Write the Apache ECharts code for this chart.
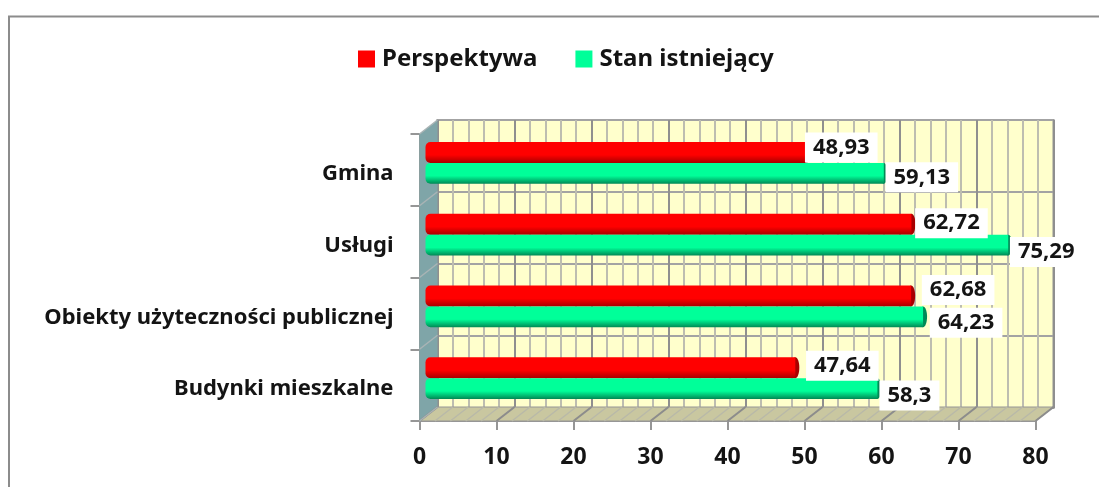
<!DOCTYPE html>
<html>
<head>
<meta charset="utf-8">
<script src="https://cdn.jsdelivr.net/npm/echarts@6/dist/echarts.min.js"></script>
<style>
  html, body { margin: 0; background: #fff; }
  #main { width: 1099px; height: 487px; }
</style>
</head>
<body>
<div id="main"></div>
<script>
const categories = ["Gmina", "Usługi", "Obiekty użyteczności publicznej", "Budynki mieszkalne"];
const perspektywa = [48.93, 62.72, 62.68, 47.64];
const stanIstniejacy = [59.13, 75.29, 64.23, 58.3];
const valueTicks = [0, 80, 10];

// hand placement of the data labels relative to the bar end (dx, dy)
const redNudge = [[36, -5], [40, -1], [47, -6], [47, -2]];
const greenNudge = [[38, 4], [38, 7], [43, 6], [32, 7]];

const fontName = '"Noto Sans", "Open Sans", sans-serif';
const frontLeft = 419.5, frontTop = 134, plotW = 616, plotH = 287;
const depthX = 18, depthY = 14;
const edge = "#969696";

function cylinder(main, dark, nudges, labels, side) {
  return function (params, api) {
    const i = api.value(2);
    const start = api.coord([0, i]);
    const end = api.coord([api.value(0), i]);
    const h = api.size([0, 1])[1] * 0.29;
    const cy = start[1] + side * h / 2;
    const top = cy - h / 2;
    const shade = new echarts.graphic.LinearGradient(0, 0, 0, 1, [
      { offset: 0, color: main },
      { offset: 0.62, color: main },
      { offset: 1, color: dark }
    ]);
    const nudge = nudges[i];
    return {
      type: "group",
      children: [
        { type: "ellipse", shape: { cx: end[0], cy: cy, rx: 4, ry: h / 2 }, style: { fill: dark } },
        { type: "rect", shape: { x: start[0] - 3, y: top, width: end[0] - start[0] + 3, height: h, r: [5, 0, 0, 5] }, style: { fill: shade } },
        {
          type: "text", z2: 100,
          style: {
            x: end[0] + nudge[0], y: cy + nudge[1], text: labels[i],
            align: "center", verticalAlign: "middle",
            font: "bold 22px " + fontName, fill: "#141414",
            backgroundColor: "#fff", padding: [4, 8, 4, 8]
          }
        }
      ]
    };
  };
}

function fmt(v) { return String(v).replace(".", ","); }

function cylinderSeries(name, color, dark, values, nudges, side) {
  return {
    name: name, type: "custom", xAxisIndex: 2, yAxisIndex: 2, z: 5,
    itemStyle: { color: color },
    renderItem: cylinder(color, dark, nudges, values.map(fmt), side),
    encode: { x: 0, y: 1 },
    data: values.map((v, i) => [v, categories[i], i]),
    silent: true, clip: false
  };
}

// side wall and floor of the 3d box
function boxParts() {
  const left = frontLeft, bottom = frontTop + plotH, parts = [];
  parts.push({ type: "polygon", z: 1, shape: { points: [[left, frontTop], [left + depthX, frontTop - depthY], [left + depthX, bottom - depthY], [left, bottom]] }, style: { fill: "#7fa5a8" } });
  parts.push({ type: "polygon", z: 1, shape: { points: [[left, bottom], [left + depthX, bottom - depthY], [left + plotW + depthX, bottom - depthY], [left + plotW, bottom]] }, style: { fill: "#c9c7a0", stroke: edge, lineWidth: 1 } });
  for (let k = 0; k <= 40; k++) {
    const x = left + plotW * k / 40;
    parts.push({ type: "line", z: 2, shape: { x1: x, y1: bottom, x2: x + depthX, y2: bottom - depthY }, style: { stroke: k % 5 === 0 ? "#8c8c8c" : "#b9b9a8", lineWidth: k % 5 === 0 ? 2 : 1.5 } });
  }
  for (let k = 0; k <= 4; k++) {
    const y = frontTop + plotH * k / 4;
    parts.push({ type: "line", z: 2, shape: { x1: left, y1: y, x2: left + depthX, y2: y - depthY }, style: { stroke: "#a9b4b5", lineWidth: 1.5 } });
  }
  // the frame of the picture only shows on top and on the left
  parts.push({ type: "polyline", z: 0, shape: { points: [[9, 487], [9, 16.5], [1099, 16.5]] }, style: { fill: "none", stroke: "#8c8c8c", lineWidth: 2 } });
  return parts;
}

const chart = echarts.init(document.getElementById("main"), null, { renderer: "canvas" });
const hidden = { axisLine: { show: false }, axisTick: { show: false }, axisLabel: { show: false } };

chart.setOption({
  animation: false,
  backgroundColor: "#fff",
  legend: {
    left: 353, top: 42, itemWidth: 17, itemHeight: 17, itemGap: 38, icon: "rect",
    textStyle: { fontFamily: fontName, fontWeight: "bold", fontSize: 24, color: "#141414", padding: [0, 0, 0, 2] },
    data: ["Perspektywa", "Stan istniejący"]
  },
  grid: [
    { left: frontLeft, top: frontTop, width: plotW, height: plotH },
    { left: frontLeft + depthX, top: frontTop - depthY, width: plotW, height: plotH + 1, show: true, backgroundColor: "#ffffcc", borderColor: edge, borderWidth: 2 },
    { left: frontLeft + depthX / 2, top: frontTop - depthY / 2, width: plotW, height: plotH },
    // category names sit a little below the tick centres
    { left: frontLeft, top: frontTop + 4, width: plotW, height: plotH }
  ],
  xAxis: [
    {
      gridIndex: 0, type: "value", min: valueTicks[0], max: valueTicks[1], interval: valueTicks[2],
      axisLine: { show: true, onZero: false, lineStyle: { color: edge, width: 2 } },
      axisTick: { show: true, length: 9, lineStyle: { color: edge, width: 2 } },
      axisLabel: { margin: 25, fontFamily: fontName, fontWeight: "bold", fontSize: 23, color: "#141414" },
      splitLine: { show: false }
    },
    {
      gridIndex: 1, type: "value", min: valueTicks[0], max: valueTicks[1], interval: valueTicks[2],
      ...hidden,
      splitLine: { show: true, lineStyle: { color: "#8f8f8f", width: 2 } },
      minorTick: { splitNumber: 5 },
      minorSplitLine: { show: true, lineStyle: { color: "#bdbdb0", width: 2 } }
    },
    { gridIndex: 2, type: "value", min: valueTicks[0], max: valueTicks[1], ...hidden, splitLine: { show: false } },
    { gridIndex: 3, type: "value", min: valueTicks[0], max: valueTicks[1], ...hidden, splitLine: { show: false } }
  ],
  yAxis: [
    {
      gridIndex: 0, type: "category", inverse: true, data: categories,
      axisLine: { show: true, lineStyle: { color: edge, width: 2 } },
      axisTick: { show: true, length: 9, lineStyle: { color: edge, width: 2 } },
      axisLabel: { show: false }
    },
    {
      gridIndex: 1, type: "category", inverse: true, data: categories, ...hidden,
      splitLine: { show: true, lineStyle: { color: "#a3a3a3", width: 2 } }
    },
    { gridIndex: 2, type: "category", inverse: true, data: categories, ...hidden },
    {
      gridIndex: 3, type: "category", inverse: true, data: categories,
      axisLine: { show: false }, axisTick: { show: false },
      axisLabel: { margin: 26, fontFamily: fontName, fontWeight: "bold", fontSize: 22, color: "#141414" }
    }
  ],
  graphic: { elements: boxParts() },
  series: [
    cylinderSeries("Perspektywa", "#ff0000", "#a80000", perspektywa, redNudge, -1),
    cylinderSeries("Stan istniejący", "#00ff99", "#008a55", stanIstniejacy, greenNudge, 1)
  ]
});
</script>
</body>
</html>
